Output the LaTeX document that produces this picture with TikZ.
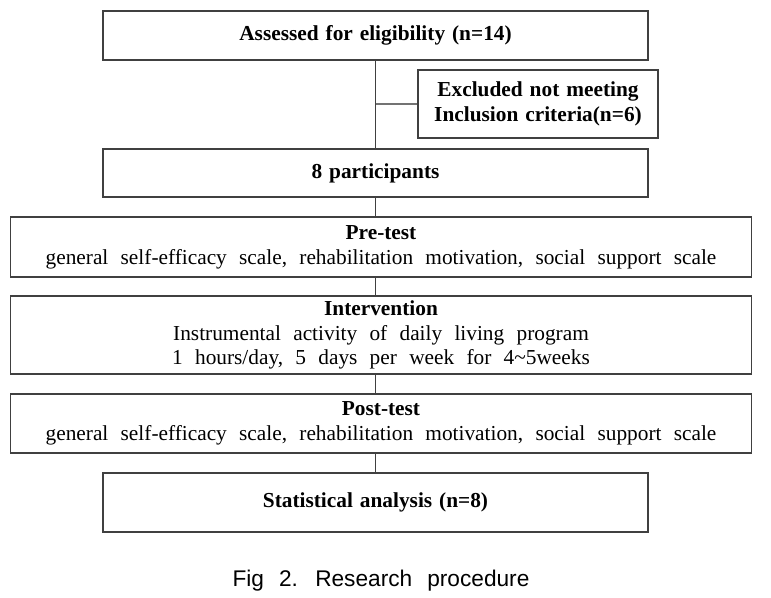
\documentclass[tikz,border=0pt]{standalone}
\usepackage{fontspec}
\setmainfont[WordSpace=2.3, BoldFeatures={WordSpace=1.3}]{Liberation Serif}
\setsansfont[WordSpace=2.4]{Liberation Sans}
\usepackage{tikz}

\begin{document}
\begin{tikzpicture}[x=0.75pt, y=-0.75pt,
	box/.style={draw=black!75, line width=1pt, fill=white, align=center, inner sep=0pt,
		font=\fontsize{16}{18.5}\selectfont},
	narrowbox/.style={box, minimum width=408.75pt},
	widebox/.style={box, minimum width=555.75pt},
	link/.style={draw=black!75, line width=1pt}]
	\useasboundingbox (0, 0) rectangle (771, 597);
	\node[narrowbox, minimum height=36.75pt] (assess) at (375.5, 35.5) {\textbf{Assessed for eligibility (n=14)}};
	\node[box, minimum width=180pt, minimum height=51pt] (excl) at (538, 104) {\textbf{Excluded not meeting}\\\textbf{Inclusion criteria(n=6)}};
	\node[narrowbox, minimum height=36pt] (part) at (375.5, 173) {\textbf{8 participants}};
	\node[widebox, minimum height=45pt] (pre) at (381, 247) {\textbf{Pre-test}\\general self-efficacy scale, rehabilitation motivation, social support scale};
	\node[widebox, minimum height=58.5pt] (interv) at (381, 335) {\textbf{Intervention}\\Instrumental activity of daily living program\\1 hours/day, 5 days per week for 4\textasciitilde5weeks};
	\node[widebox, minimum height=44.25pt] (post) at (381, 423.5) {\textbf{Post-test}\\general self-efficacy scale, rehabilitation motivation, social support scale};
	\node[narrowbox, minimum height=44.25pt] (stats) at (375.5, 502.5) {\textbf{Statistical analysis (n=8)}};
	\node[font=\sffamily\fontsize{17}{20}\selectfont] (caption) at (381, 581) {Fig 2. Research procedure};
	\draw[link] (assess.south) -- (part.north);
	\draw[draw=black!55, line width=1pt] (assess.south |- excl.west) -- (excl.west);
	\draw[link] (part.south) -- (part.south |- pre.north);
	\draw[link] (part.south |- pre.south) -- (part.south |- interv.north);
	\draw[link] (part.south |- interv.south) -- (part.south |- post.north);
	\draw[link] (part.south |- post.south) -- (stats.north);
\end{tikzpicture}
\end{document}
